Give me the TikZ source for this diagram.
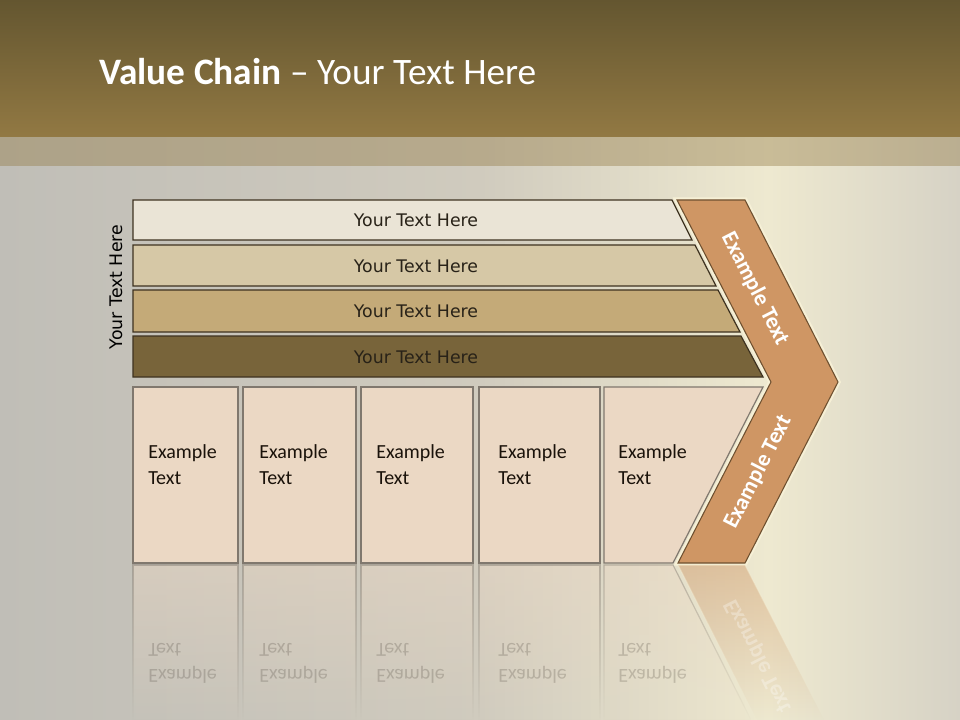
\documentclass[tikz,border=0pt]{standalone}
\usepackage{fontspec}
\setmainfont{Carlito}
\newfontfamily\bandfont{DejaVu Sans}
\usetikzlibrary{calc,fadings}

\definecolor{barTop}{RGB}{100,86,48}
\definecolor{barBot}{RGB}{146,121,67}
\definecolor{bgL}{RGB}{192,190,183}
\definecolor{bgM}{RGB}{208,203,190}
\definecolor{bgH}{RGB}{238,233,208}
\definecolor{bgR}{RGB}{214,210,197}
\definecolor{bandA}{RGB}{234,228,214}
\definecolor{bandB}{RGB}{214,200,166}
\definecolor{bandC}{RGB}{196,170,120}
\definecolor{bandD}{RGB}{120,100,58}
\definecolor{bandLine}{RGB}{62,50,32}
\definecolor{bandInk}{RGB}{40,34,24}
\definecolor{cellFill}{RGB}{235,216,196}
\definecolor{cellLine}{RGB}{128,120,110}
\definecolor{cellInk}{RGB}{26,18,10}
\definecolor{chevFill}{RGB}{207,150,100}
\definecolor{chevLine}{RGB}{110,80,48}
\definecolor{chevGlow}{RGB}{246,240,214}

\pgfdeclarehorizontalshading{slidebg}{100bp}{color(0bp)=(bgL); color(25bp)=(bgL);
  color(50bp)=(bgM); color(65bp)=(bgH); color(75bp)=(bgR); color(100bp)=(bgR)}
\tikzfading[name=reflfade, top color=transparent!55, bottom color=transparent!100]

\begin{document}
\begin{tikzpicture}[
  x=0.75pt, y=-0.75pt,
  band/.style={draw=bandLine, line width=0.9pt},
  bandtext/.style={font=\bandfont\fontsize{13}{15}\selectfont,
    text=bandInk, inner sep=0pt},
  cell/.style={draw=cellLine, fill=cellFill, line width=0.9pt},
  celltext/.style={anchor=north west, align=left, inner sep=0pt,
    font=\fontsize{15}{19.5}\selectfont, text=cellInk},
  mirror/.style={path fading=reflfade, line width=0.9pt},
  chevron/.style={draw=chevLine, fill=chevFill, line width=0.8pt},
  chevtext/.style={font=\bfseries\fontsize{17}{20}\selectfont, text=white,
    inner sep=0pt}
]
\clip (0,0) rectangle (960,720);

%% Background and title bar
\shade[shading=slidebg] (0,0) rectangle (960,720);
\shade[top color=barTop, bottom color=barBot] (0,0) rectangle (960,137);
\fill[barBot, opacity=0.4] (0,137) rectangle (960,166);

\node[anchor=base west, inner sep=0pt, text=white,
      font=\fontsize{28}{32}\selectfont] (title) at (99,85)
  {\textbf{Value Chain} -- Your Text Here};

%% Bands
\draw[band, fill=bandA] (133,200) -- (672,200) -- (692,240) -- (133,240) -- cycle;
\draw[band, fill=bandB] (133,245) -- (695,245) -- (716,286) -- (133,286) -- cycle;
\draw[band, fill=bandC] (133,290) -- (718,290) -- (740,332) -- (133,332) -- cycle;
\draw[band, fill=bandD] (133,336) -- (741,336) -- (763,377) -- (133,377) -- cycle;

\node[bandtext] (y1) at (416,220) {Your Text Here};
\node[bandtext] (y2) at (416,266) {Your Text Here};
\node[bandtext] (y3) at (416,311) {Your Text Here};
\node[bandtext] (y4) at (416,357) {Your Text Here};

\node[bandtext, text=black, rotate=90] (side) at (116,287) {Your Text Here};

%% Cells
\draw[cell] (133,387) rectangle (238,563);
\draw[cell] (243,387) rectangle (356,563);
\draw[cell] (361,387) rectangle (473,563);
\draw[cell] (479,387) rectangle (600,563);
\draw[cell] (604,387) -- (763,387) -- (673,563) -- (604,563) -- cycle;

\node[celltext] (e1) at (148,444) {Example\\Text};
\node[celltext] (e2) at (259,444) {Example\\Text};
\node[celltext] (e3) at (376,444) {Example\\Text};
\node[celltext] (e4) at (498,444) {Example\\Text};
\node[celltext] (e5) at (618,444) {Example\\Text};

%% Chevron
\draw[chevGlow, line width=4pt, line join=miter]
  (677,200) -- (745,200) -- (838,382) -- (745,563) -- (678,563) -- (771,382) -- cycle;
\draw[chevron, line join=miter]
  (677,200) -- (745,200) -- (838,382) -- (745,563) -- (678,563) -- (771,382) -- cycle;

\node[chevtext, rotate=-63] (c1) at (755,289) {Example Text};
\node[chevtext, rotate=63]  (c2) at (758,472) {Example Text};

%% Reflection
\draw[mirror, draw=cellLine, fill=cellFill] (133,565) rectangle (238,720);
\draw[mirror, draw=cellLine, fill=cellFill] (243,565) rectangle (356,720);
\draw[mirror, draw=cellLine, fill=cellFill] (361,565) rectangle (473,720);
\draw[mirror, draw=cellLine, fill=cellFill] (479,565) rectangle (600,720);
\draw[mirror, draw=cellLine, fill=cellFill] (604,565) -- (673,565) -- (751,720) -- (604,720) -- cycle;
\draw[mirror, draw=chevGlow, fill=chevFill] (678,565) -- (745,565) -- (824,720) -- (757,720) -- cycle;

\foreach \x/\n in {148/1, 259/2, 376/3, 498/4, 618/5}
  \node[celltext, yscale=-1, opacity=0.18] (r\n) at (\x,684) {Example\\Text};
\node[chevtext, rotate=-63, yscale=-1, opacity=0.3] (rc) at (758,656) {Example Text};

\end{tikzpicture}
\end{document}
